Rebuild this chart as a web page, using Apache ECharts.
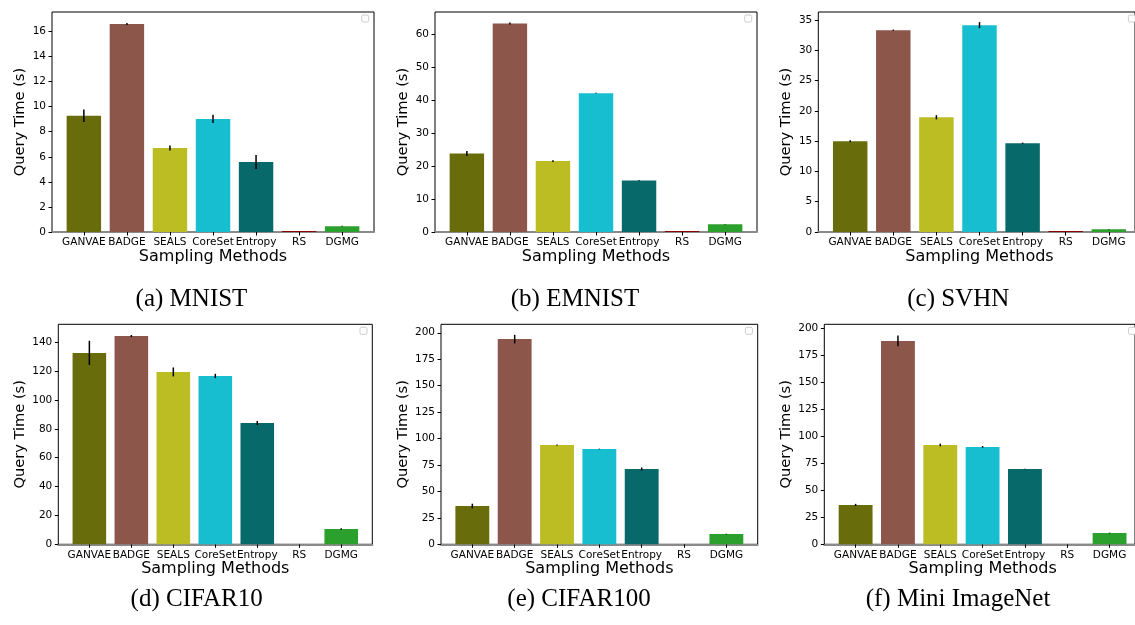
<!doctype html>
<html lang="en">
<head>
<meta charset="UTF-8">
<title>Query Time</title>
<script src="https://cdn.jsdelivr.net/npm/echarts@6/dist/echarts.min.js"></script>
<style>
  html, body { margin: 0; background: #fff; }
  #chart { width: 1135px; height: 625px; }
</style>
</head>
<body>
<div id="chart"></div>
<script>
// categories and colours
var methods = ['GANVAE', 'BADGE', 'SEALS', 'CoreSet', 'Entropy', 'RS', 'DGMG'];
var barColors = ['#686c0b', '#8c564b', '#bcbd22', '#17becf', '#08696b', '#8b0000', '#2ca02c'];

// query time (s) and std per dataset
var mnistTime = [9.27, 16.6, 6.7, 9.02, 5.58, 0.08, 0.46];
var mnistErr  = [0.5, 0.08, 0.2, 0.33, 0.56, 0, 0.03];
var emnistTime = [23.8, 63.2, 21.5, 42.1, 15.6, 0.3, 2.35];
var emnistErr  = [0.76, 0.3, 0.25, 0.1, 0.1, 0, 0.1];
var svhnTime = [15.0, 33.35, 18.96, 34.18, 14.67, 0.17, 0.45];
var svhnErr  = [0.15, 0.1, 0.35, 0.5, 0.1, 0, 0.03];
var cifar10Time = [132.6, 144.3, 119.4, 116.6, 84.0, 0, 10.6];
var cifar10Err  = [8.4, 0.7, 3.1, 1.5, 1.4, 0, 0.6];
var cifar100Time = [36.2, 194.0, 93.9, 90.1, 71.2, 0, 9.7];
var cifar100Err  = [2.2, 4.1, 0.5, 0.3, 1.4, 0, 0.3];
var miniTime = [36.5, 188.6, 92.1, 90.3, 69.8, 0, 10.5];
var miniErr  = [1.0, 5.0, 1.2, 0.8, 0.3, 0, 0.3];

// y axis ticks per panel
var mnistTicks = [0, 2, 4, 6, 8, 10, 12, 14, 16];
var emnistTicks = [0, 10, 20, 30, 40, 50, 60];
var svhnTicks = [0, 5, 10, 15, 20, 25, 30, 35];
var cifar10Ticks = [0, 20, 40, 60, 80, 100, 120, 140];
var cifar100Ticks = [0, 25, 50, 75, 100, 125, 150, 175, 200];
var miniTicks = [0, 25, 50, 75, 100, 125, 150, 175, 200];

var panels = [
  {cap: '(a) MNIST', time: mnistTime, err: mnistErr, ticks: mnistTicks, step: 2, ymax: 17.55,
   box: [52, 12, 322, 220], capX: 191.5, capY: 299.5, ylx: 32},
  {cap: '(b) EMNIST', time: emnistTime, err: emnistErr, ticks: emnistTicks, step: 10, ymax: 66.7,
   box: [435, 12, 322, 220], capX: 575, capY: 299.5, ylx: 32},
  {cap: '(c) SVHN', time: svhnTime, err: svhnErr, ticks: svhnTicks, step: 5, ymax: 36.35,
   box: [818.3, 12, 322.4, 220], capX: 958.3, capY: 299.5, ylx: 32},
  {cap: '(d) CIFAR10', time: cifar10Time, err: cifar10Err, ticks: cifar10Ticks, step: 20, ymax: 152.4,
   box: [58.3, 324.3, 314, 220], capX: 196.7, capY: 599.5, ylx: 38.3},
  {cap: '(e) CIFAR100', time: cifar100Time, err: cifar100Err, ticks: cifar100Ticks, step: 25, ymax: 208,
   box: [441, 324.3, 316.7, 220], capX: 579, capY: 599.5, ylx: 38},
  {cap: '(f) Mini ImageNet', time: miniTime, err: miniErr, ticks: miniTicks, step: 25, ymax: 204,
   box: [824.3, 324.3, 316.6, 220], capX: 958, capY: 599.5, ylx: 38}
];

var sans = 'DejaVu Sans';
var grids = [], xAxes = [], yAxes = [], series = [], graphics = [];

function errItem(params, api) {
  var i = api.value(0), v = api.value(1), e = api.value(2);
  if (!e) return null;
  var p1 = api.coord([i, v - e]);
  var p2 = api.coord([i, v + e]);
  return {type: 'line', shape: {x1: p1[0], y1: p1[1], x2: p2[0], y2: p2[1]},
          style: {stroke: '#000', lineWidth: 1.5}};
}

panels.forEach(function (p, k) {
  var L = p.box[0], T = p.box[1], W = p.box[2], H = p.box[3];
  var s = W / 7.48;
  var fi = 2 * k, di = 2 * k + 1;

  // frame grid: border + y axis + gray zero line
  grids.push({left: L, top: T, width: W, height: H, show: true,
              borderColor: '#000', borderWidth: 1, backgroundColor: 'transparent'});
  xAxes.push({gridIndex: fi, type: 'value', min: 0, max: 1, position: 'bottom',
              axisLine: {show: true, lineStyle: {color: '#8a8a8a', width: 2}},
              axisTick: {show: false}, axisLabel: {show: false}, splitLine: {show: false}});
  yAxes.push({gridIndex: fi, type: 'value', min: 0, max: p.ymax, interval: p.step,
              axisLine: {show: false}, splitLine: {show: false},
              axisTick: {show: true, length: 3.5, customValues: p.ticks, lineStyle: {color: '#000', width: 1}},
              axisLabel: {show: true, customValues: p.ticks, margin: 6,
                          fontFamily: sans, fontSize: 10.5, color: '#000'}});

  // data grid: categories
  grids.push({left: L + 0.24 * s, top: T, width: 7 * s, height: H});
  xAxes.push({gridIndex: di, type: 'category', data: methods, boundaryGap: true,
              axisLine: {show: false},
              axisTick: {show: true, alignWithLabel: true, length: 3.5, lineStyle: {color: '#000'}},
              axisLabel: {interval: 0, margin: 5, fontFamily: sans, fontSize: 10.5, color: '#000'}});
  yAxes.push({gridIndex: di, type: 'value', min: 0, max: p.ymax, show: false, splitLine: {show: false}});

  series.push({type: 'bar', xAxisIndex: di, yAxisIndex: di, barWidth: '80%', z: 3,
               data: p.time.map(function (v, i) { return {value: v, itemStyle: {color: barColors[i]}}; })});
  series.push({type: 'custom', xAxisIndex: di, yAxisIndex: di, z: 4, renderItem: errItem,
               encode: {x: 0, y: 1},
               data: p.time.map(function (v, i) { return [i, v, p.err[i]]; })});

  graphics.push({type: 'text', x: L - p.ylx, y: T + H / 2, rotation: Math.PI / 2,
                 style: {text: 'Query Time (s)', font: '14.6px "DejaVu Sans"', fill: '#000',
                         align: 'center', verticalAlign: 'middle'}});
  graphics.push({type: 'text', x: L + W / 2, y: T + H + 25,
                 style: {text: 'Sampling Methods', font: '16px "DejaVu Sans"', fill: '#000',
                         align: 'center', verticalAlign: 'middle'}});
  graphics.push({type: 'text', x: p.capX, y: p.capY,
                 style: {text: p.cap, font: '25px "Liberation Serif"', fill: '#000',
                         align: 'center', verticalAlign: 'middle'}});
  graphics.push({type: 'rect', shape: {x: L + W - 12.3, y: T + 3, width: 7, height: 7, r: 1.5},
                 style: {fill: '#fff', stroke: '#cccccc', lineWidth: 1}});
});

var chart = echarts.init(document.getElementById('chart'), null, {renderer: 'canvas'});
chart.setOption({
  animation: false,
  grid: grids,
  xAxis: xAxes,
  yAxis: yAxes,
  series: series,
  graphic: graphics
});
</script>
</body>
</html>
